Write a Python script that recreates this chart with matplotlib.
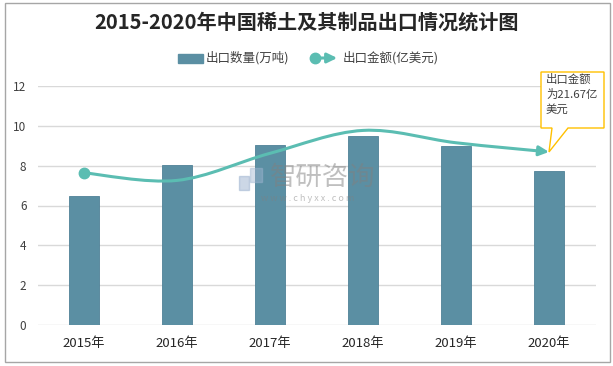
import numpy as np
import matplotlib
matplotlib.use("Agg")
from matplotlib import pyplot as plt
from matplotlib.path import Path
from matplotlib.patches import FancyArrowPatch, Rectangle, Polygon

plt.rcParams['font.family'] = ['Noto Sans CJK SC', 'DejaVu Sans']

#data
years = ['2015年', '2016年', '2017年', '2018年', '2019年', '2020年']
volume = [6.5, 8.05, 9.05, 9.5, 9.0, 7.75]       #出口数量(万吨)
amount = [7.64, 7.26, 8.62, 9.77, 9.15, 8.69]    #出口金额 curve, drawn on the same scale
yticks = [0, 2, 4, 6, 8, 10, 12]
title = '2015-2020年中国稀土及其制品出口情况统计图'
legend_labels = ['出口数量(万吨)', '出口金额(亿美元)']
callout = '出口金额\n为21.67亿\n美元'

W, H = 613, 366
bar_c = '#5b8fa3'
line_c = '#5bbdb2'
head = '-|>,head_length=0.45,head_width=0.22'

def fx(px): return px / W
def fy(py): return 1 - py / H

fig = plt.figure(figsize=(W / 100, H / 100), dpi=100)
ax = fig.add_axes([fx(37.5), fy(325), fx(595.5) - fx(37.5), fy(86) - fy(325)])

x = np.arange(len(years))
ax.bar(x, volume, width=0.32, color=bar_c, edgecolor='#4f8197', linewidth=0.6, zorder=2)
ax.set_xlim(-0.5, len(years) - 0.5)
ax.set_ylim(0, 12)
ax.set_yticks(yticks)
ax.set_xticks(x, years)
ax.grid(axis='y', color='#d9d9d9', lw=1, zorder=0)
ax.set_axisbelow(True)
for s in ax.spines.values():
    s.set_visible(False)
ax.tick_params(axis='y', length=0, pad=8, labelsize=8.5, labelcolor='#404040')
ax.tick_params(axis='x', length=0, pad=9, labelsize=9.5, labelcolor='#262626')

#smoothed line (bezier through the points, like excel smoothing)
pts = np.column_stack([x, amount]).astype(float)
verts = [pts[0]]
codes = [Path.MOVETO]
for i in range(len(pts) - 1):
    p0 = pts[i - 1] if i > 0 else pts[i]
    p3 = pts[i + 2] if i + 2 < len(pts) else pts[i + 1]
    verts += [pts[i] + (pts[i + 1] - p0) / 6, pts[i + 1] - (p3 - pts[i]) / 6, pts[i + 1]]
    codes += [Path.CURVE4] * 3
arr = FancyArrowPatch(path=Path(verts, codes), arrowstyle=head,
                      mutation_scale=13, color=line_c, lw=2.2, zorder=4)
ax.add_patch(arr)
ax.plot(x[0], amount[0], 'o', ms=7.5, color=line_c, zorder=5)

#watermark
fig.text(fx(323), fy(177), '智研咨询', fontsize=19, color='#808080', alpha=0.5,
         ha='center', va='center', zorder=6)
fig.text(fx(308), fy(198), 'w w w . c h y x x . c o m', fontsize=6.5, color='#808080',
         alpha=0.5, ha='center', va='center', zorder=6)
fig.patches.append(Rectangle((fx(239), fy(190)), fx(10), fy(176) - fy(190), transform=fig.transFigure,
                             color='#8fa8c8', alpha=0.45, zorder=6))
fig.patches.append(Rectangle((fx(250), fy(182)), fx(12), fy(168) - fy(182), transform=fig.transFigure,
                             color='#9fb5d0', alpha=0.45, zorder=6))

#callout
tip = fig.transFigure.inverted().transform(ax.transData.transform((x[-1], amount[-1])))
box = [(fx(541), fy(72)), (fx(604), fy(72)), (fx(604), fy(128)), (fx(568), fy(128)),
       tuple(tip), (fx(552), fy(128)), (fx(541), fy(128))]
fig.patches.append(Polygon(box, closed=True, transform=fig.transFigure, facecolor='white',
                           edgecolor='#ffc000', lw=1, zorder=7))
fig.text(fx(546), fy(74), callout, fontsize=8.2, color='#404040', va='top', ha='left',
         linespacing=1.45, zorder=8)

#title
fig.text(0.5, fy(22), title, fontsize=14.5, fontweight='bold', color='#262626', ha='center', va='center')

#legend
fig.patches.append(Rectangle((fx(178), fy(63)), fx(25), fy(54) - fy(63), transform=fig.transFigure,
                             color=bar_c))
fig.text(fx(206), fy(58), legend_labels[0], fontsize=9, color='#404040', va='center')
fig.patches.append(FancyArrowPatch((fx(315), fy(58)), (fx(340), fy(58)), transform=fig.transFigure,
                                   arrowstyle=head, mutation_scale=13, color=line_c, lw=2.2))
fig.lines.append(plt.Line2D([fx(315)], [fy(58)], marker='o', ms=7.5, color=line_c,
                            transform=fig.transFigure))
fig.text(fx(343), fy(58), legend_labels[1], fontsize=9, color='#404040', va='center')

#outer frame
fig.patches.append(Rectangle((fx(5), fy(362)), fx(605), fy(3) - fy(362), transform=fig.transFigure,
                             fill=False, edgecolor='#a6a6a6', lw=1))

fig.savefig('out.png', dpi=100)
